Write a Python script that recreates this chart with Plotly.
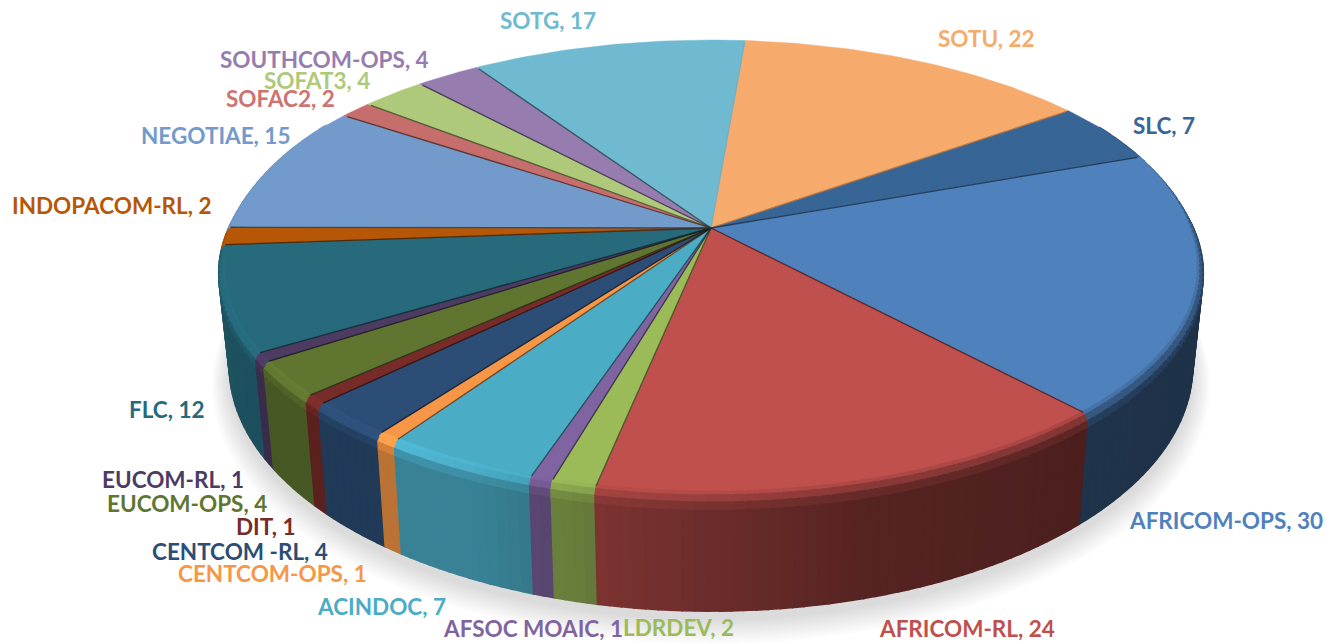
import numpy as np
import plotly.graph_objects as go

categories = ["SOTU", "SLC", "AFRICOM-OPS", "AFRICOM-RL", "LDRDEV", "AFSOC MOAIC", "ACINDOC",
              "CENTCOM-OPS", "CENTCOM -RL", "DIT", "EUCOM-OPS", "EUCOM-RL", "FLC", "INDOPACOM-RL",
              "NEGOTIAE", "SOFAC2", "SOFAT3", "SOUTHCOM-OPS", "SOTG"]
values = [22, 7, 30, 24, 2, 1, 7, 1, 4, 1, 4, 1, 12, 2, 15, 2, 4, 4, 17]

top_colors = ["#f6ab6c", "#376596", "#4f81bd", "#c0504d", "#9bbb59", "#8064a2", "#4bacc6",
              "#f79646", "#2c4d75", "#772c2a", "#5f7530", "#4d3b62", "#276a7c", "#b65708",
              "#729aca", "#c66e6b", "#afc97a", "#977cb0", "#6fbad0"]
label_colors = ["#f6ab6c", "#376596", "#4f81bd", "#c0504d", "#9bbb59", "#8064a2", "#4bacc6",
                "#f79646", "#2c4d75", "#772c2a", "#5f7530", "#4d3b62", "#276a7c", "#b65708",
                "#729aca", "#cd7371", "#afc97a", "#977cb0", "#6fbad0"]
# label centres in chart pixels
label_x = [986, 1164, 1226, 967, 678, 533, 381, 272, 240, 266, 187, 173, 167, 112, 215, 280, 317, 324, 548]
label_y = [38, 125, 520, 628, 627, 628, 606, 573, 551, 526, 503, 479, 409, 205, 135, 98, 80, 59, 20]

# projection of the disc
CX, CY, R, B, K = 711.0, 228.0, 485.5, 220.6, 0.1736
DEPTH, BOTTOM_X = 96.0, 0.977
START_DEG = 4.7


def project(theta_deg, r=1.0, z=0.0):
    t = np.radians(theta_deg)
    X, Y = r * np.sin(t), -r * np.cos(t)
    s = 1.0 / (1.0 - K * Y)
    xscale = 1.0 - (1.0 - BOTTOM_X) * (z / DEPTH)
    return CX + R * X * s * xscale, CY + B * Y * s + z * s


def hexrgb(h):
    return np.array([int(h[i:i + 2], 16) for i in (1, 3, 5)], dtype=float)


def css(c):
    c = np.clip(c, 0, 255).astype(int)
    return f"rgb({c[0]},{c[1]},{c[2]})"


def wall_light(th):
    th = (th + 360) % 360
    return float(np.interp(th, [60, 90, 140, 165, 190, 205, 240, 270, 300],
                           [.38, .38, .40, .45, .64, .76, .76, .80, .80]))


def rim_glow(th):
    th = (th + 360) % 360
    return float(np.interp(th, [150, 190, 215, 250, 290], [1.0, 1.05, 1.28, 1.18, 1.05]))


def top_radius(th):
    return np.interp((np.asarray(th) + 360) % 360, [60, 90, 270, 300], [1.0, 0.986, 0.986, 1.0])


def poly(fig, xs, ys, color, lw=0.6):
    fig.add_trace(go.Scatter(x=xs, y=ys, mode="lines", fill="toself", fillcolor=color,
                             line=dict(color=color, width=lw), hoverinfo="skip", showlegend=False))


fig = go.Figure()

# soft drop shadow
aa = np.linspace(0, 360, 181)
for i in range(12):
    f = 1.0 + 0.0033 * (12 - i)
    xx, yy = project(aa, r=f, z=DEPTH + 6 + 0.8 * (12 - i))
    fig.add_trace(go.Scatter(x=xx, y=yy, mode="lines", fill="toself",
                             fillcolor="rgba(0,0,0,0.013)", line=dict(width=0),
                             hoverinfo="skip", showlegend=False))

total = sum(values)
edges = START_DEG + np.concatenate([[0], np.cumsum(values)]) * 360.0 / total

# side wall, back to front
segments = []
for i, col in enumerate(top_colors):
    a0, a1 = edges[i], edges[i + 1]
    n = max(2, int(np.ceil((a1 - a0) / 1.25)))
    grid = np.linspace(a0, a1, n + 1)
    for g0, g1 in zip(grid[:-1], grid[1:]):
        mid = (g0 + g1) / 2
        if 60 < (mid % 360) < 300:
            segments.append((-np.cos(np.radians(mid)), i, g0, g1, mid))
segments.sort(key=lambda s: s[0])

for _, i, g0, g1, mid in segments:
    base = hexrgb(top_colors[i])
    wall = base * wall_light(mid)
    r_in = float(top_radius(mid))
    r_mid = (r_in + 1.0) / 2
    profile = [(r_in, 0.0, 0.0), (r_mid, 2.0, 0.35), (1.0, 6.0, 0.7), (1.0, 13.0, 1.0), (1.0, DEPTH, 1.0)]
    for (r0, z0, t0), (r1, z1, t1) in zip(profile[:-1], profile[1:]):
        t = (t0 + t1) / 2
        c = base * (1 - t) + wall * t
        if t < 0.9:
            c = c * (1 + (rim_glow(mid) - 1) * (1 - abs(t - 0.45) / 0.55))
        th = np.linspace(g0, g1, 3)
        xa, ya = project(th, r0, z0)
        xb, yb = project(th[::-1], r1, z1)
        poly(fig, np.r_[xa, xb, xa[0]], np.r_[ya, yb, ya[0]], css(c), lw=1.6)

# top faces
for i, col in enumerate(top_colors):
    a0, a1 = edges[i], edges[i + 1]
    th = np.linspace(a0, a1, max(4, int((a1 - a0) / 1.0) + 2))
    xa, ya = project(th, top_radius(th))
    poly(fig, np.r_[CX, xa, CX], np.r_[CY, ya, CY], col, lw=0.5)

# dark seams between slices on the top face
for i, a in enumerate(edges[:-1]):
    seam = css(hexrgb(top_colors[i]) * 0.35)
    if i == 0:
        seam = "rgb(120,170,190)"
    if i == 1:
        seam = "#c9772f"
    xe, ye = project(a, 0.99)
    fig.add_trace(go.Scatter(x=[CX, xe], y=[CY, ye], mode="lines",
                             line=dict(color=seam, width=1.3), opacity=0.8,
                             hoverinfo="skip", showlegend=False))

for name, v, c, lx, ly in zip(categories, values, label_colors, label_x, label_y):
    fig.add_annotation(x=lx, y=ly, text=f"{name}, {v}", showarrow=False, xanchor="center", yanchor="middle",
                       font=dict(family="Lato", size=22.5, color=c, weight="bold"))

fig.update_layout(width=1343, height=644, margin=dict(l=0, r=0, t=0, b=0),
                  paper_bgcolor="white", plot_bgcolor="white", showlegend=False,
                  xaxis=dict(range=[0, 1343], visible=False, fixedrange=True),
                  yaxis=dict(range=[644, 0], visible=False, fixedrange=True))
fig.write_html("out.html", config={"displayModeBar": False},
               post_script="document.body.style.margin='0';")
